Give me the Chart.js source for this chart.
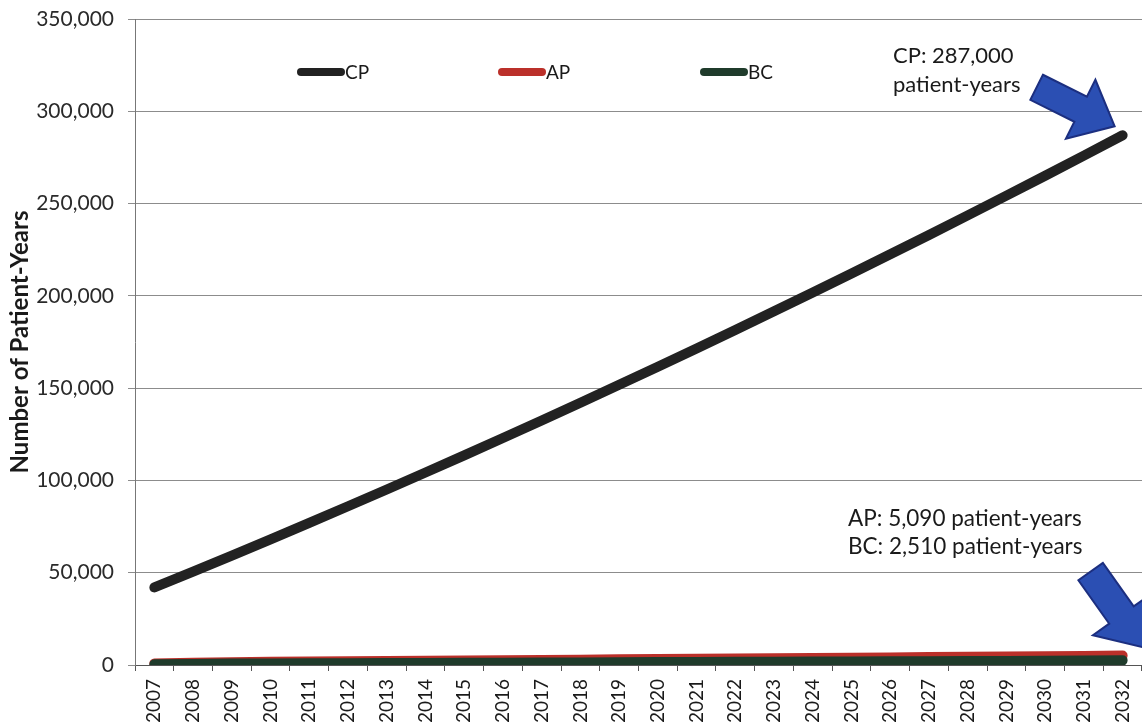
<!DOCTYPE html>
<html lang="en">
<head>
  <meta charset="UTF-8" />
  <title>Number of Patient-Years</title>
  <script src="https://cdn.jsdelivr.net/npm/chart.js"></script>
  <style>
    html, body { margin: 0; padding: 0; background: #fff; }
    #wrap { width: 1142px; height: 726px; }
  </style>
</head>
<body>
  <div id="wrap">
    <canvas id="patientChart" width="1142" height="726"></canvas>
  </div>

  <script>
    // Datos
    const years = ['2007', '2008', '2009', '2010', '2011', '2012', '2013', '2014', '2015',
      '2016', '2017', '2018', '2019', '2020', '2021', '2022', '2023', '2024', '2025',
      '2026', '2027', '2028', '2029', '2030', '2031', '2032'];

    const cpValues = [42000, 50600, 59300, 68100, 77000, 86000, 95100, 104300, 113600,
      123000, 132500, 142100, 151800, 161600, 171500, 181500, 191600, 201800, 212100,
      222500, 233000, 243600, 254300, 265100, 276000, 287000];

    const apValues = [800, 1200, 1500, 1700, 1850, 2000, 2150, 2300, 2450, 2600, 2750,
      2900, 3050, 3200, 3350, 3500, 3650, 3800, 3950, 4100, 4270, 4440, 4600, 4760,
      4920, 5090];

    const bcValues = [400, 600, 750, 850, 930, 1000, 1070, 1140, 1210, 1280, 1350, 1420,
      1490, 1560, 1630, 1700, 1770, 1840, 1910, 1980, 2050, 2140, 2230, 2320, 2410, 2510];

    const yTickValues = [0, 50000, 100000, 150000, 200000, 250000, 300000, 350000];

    const cpNote = ['CP: 287,000', 'patient-years'];
    const smallNote = ['AP: 5,090 patient-years', 'BC: 2,510 patient-years'];

    const FONT = 'Lato, "Open Sans", sans-serif';

    // flecha azul
    function drawArrow(ctx, tx, ty, hx, hy, shaftW, headW, headL) {
      const ang = Math.atan2(hy - ty, hx - tx);
      const len = Math.hypot(hx - tx, hy - ty);
      ctx.save();
      ctx.translate(tx, ty);
      ctx.rotate(ang);
      ctx.beginPath();
      ctx.moveTo(0, -shaftW / 2);
      ctx.lineTo(len - headL, -shaftW / 2);
      ctx.lineTo(len - headL, -headW / 2);
      ctx.lineTo(len, 0);
      ctx.lineTo(len - headL, headW / 2);
      ctx.lineTo(len - headL, shaftW / 2);
      ctx.lineTo(0, shaftW / 2);
      ctx.closePath();
      ctx.fillStyle = '#2b4fb3';
      ctx.fill();
      ctx.lineWidth = 2;
      ctx.strokeStyle = '#1c2f80';
      ctx.stroke();
      ctx.restore();
    }

    const extras = {
      id: 'extras',
      afterDraw(chart) {
        const ctx = chart.ctx;
        ctx.save();

        // leyenda dentro del area
        const legendX = [297, 498, 700];
        const legendY = 72;
        [0, 1, 2].forEach((i, k) => {
          const ds = chart.data.datasets[i];
          ctx.beginPath();
          ctx.lineCap = 'round';
          ctx.lineWidth = 8;
          ctx.strokeStyle = ds.borderColor;
          ctx.moveTo(legendX[k] + 4, legendY);
          ctx.lineTo(legendX[k] + 44, legendY);
          ctx.stroke();
          ctx.fillStyle = '#1a1a1a';
          ctx.font = '19px ' + FONT;
          ctx.textBaseline = 'middle';
          ctx.textAlign = 'left';
          ctx.fillText(ds.label, legendX[k] + 48, legendY + 1);
        });

        // notas
        ctx.fillStyle = '#1a1a1a';
        ctx.textBaseline = 'alphabetic';
        ctx.font = '22px ' + FONT;
        ctx.fillText(cpNote[0], 893, 63);
        ctx.fillText(cpNote[1], 893, 92);
        ctx.font = '22.5px ' + FONT;
        ctx.fillText(smallNote[0], 848, 526);
        ctx.fillText(smallNote[1], 848, 554);

        // flechas hacia el ultimo punto
        const cpLast = chart.getDatasetMeta(0).data[years.length - 1];
        const apLast = chart.getDatasetMeta(1).data[years.length - 1];
        drawArrow(ctx, cpLast.x - 86, cpLast.y - 48, cpLast.x - 8, cpLast.y - 9, 28, 66, 38);
        drawArrow(ctx, apLast.x - 32, apLast.y - 84, apLast.x + 22, apLast.y - 8, 30, 70, 40);

        ctx.restore();
      }
    };

    const ctx = document.getElementById('patientChart').getContext('2d');

    const chart = new Chart(ctx, {
      type: 'line',
      data: {
        labels: years,
        datasets: [
          {
            label: 'CP',
            data: cpValues,
            borderColor: '#222222',
            borderWidth: 10,
            order: 0
          },
          {
            label: 'AP',
            data: apValues,
            borderColor: '#bb302a',
            borderWidth: 10,
            order: 2
          },
          {
            label: 'BC',
            data: bcValues,
            borderColor: '#1f3b2b',
            borderWidth: 10,
            order: 1
          }
        ]
      },
      options: {
        responsive: false,
        animation: false,
        layout: { padding: { top: 19, right: 0, left: 0, bottom: 0 } },
        elements: {
          point: { radius: 0, hoverRadius: 0 },
          line: { tension: 0, borderCapStyle: 'round', borderJoinStyle: 'round', fill: false }
        },
        plugins: {
          legend: { display: false },
          tooltip: { enabled: false }
        },
        scales: {
          x: {
            offset: true,
            grid: {
              offset: true,
              drawOnChartArea: false,
              tickLength: 6,
              color: '#555'
            },
            border: { color: '#555', width: 1 },
            ticks: {
              autoSkip: false,
              minRotation: 90,
              maxRotation: 90,
              padding: 8,
              color: '#1a1a1a',
              font: { family: FONT, size: 19 }
            },
            afterFit(scale) {
              scale.height = 61;
              scale.paddingRight = 0;
              scale.paddingLeft = 0;
            }
          },
          y: {
            min: 0,
            max: 350000,
            afterBuildTicks(scale) {
              scale.ticks = yTickValues.map(v => ({ value: v }));
            },
            grid: { color: '#8c8c8c', tickLength: 7 },
            border: { color: '#777', width: 1 },
            ticks: {
              padding: 14,
              color: '#2a2a2a',
              font: { family: FONT, size: 21 },
              callback: v => v.toLocaleString('en-US')
            },
            title: {
              display: true,
              text: 'Number of Patient-Years',
              color: '#1a1a1a',
              font: { family: FONT, size: 24, weight: 'bold' },
              padding: { top: 6, bottom: 0 }
            },
            afterFit(scale) {
              scale.width = 135;
              scale.paddingTop = 0;
              scale.paddingBottom = 0;
            }
          }
        }
      },
      plugins: [extras]
    });
  </script>
</body>
</html>
